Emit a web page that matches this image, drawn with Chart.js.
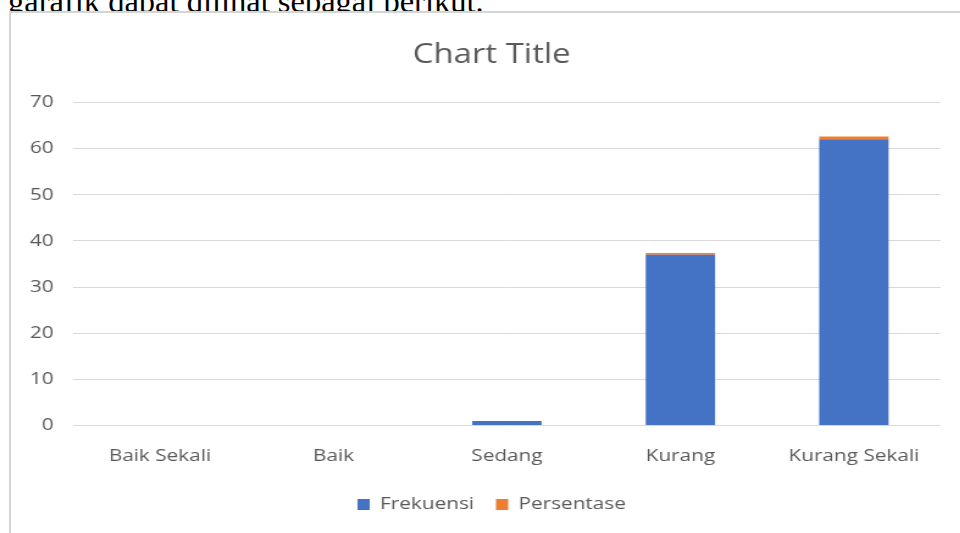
<!DOCTYPE html>
<html>
<head>
<meta charset="utf-8">
<script src="https://cdn.jsdelivr.net/npm/chart.js@4"></script>
<style>
  body { margin: 0; background: #fff; width: 960px; height: 533px; overflow: hidden; position: relative; }
  #caption { position: absolute; left: 8px; top: -17px; font-family: "Liberation Serif", serif; font-size: 32.5px; color: #000; white-space: nowrap; }
  #box { position: absolute; left: 9px; top: 11px; width: 951px; height: 522px; border-left: 2px solid #d4d4d4; border-top: 2px solid #d4d4d4; background: #fff; overflow: hidden; }
  /* the reference is stretched sideways and cut on the right, so draw narrower and stretch */
  #wrap { position: absolute; left: 0; top: 0; width: 804px; height: 520px; transform: scaleX(1.22); transform-origin: 0 0; }
</style>
</head>
<body>
<div id="caption">garafik dapat dilihat sebagai berikut.</div>
<div id="box"><div id="wrap"><canvas id="chart"></canvas></div></div>
<script>
const categories = ["Baik Sekali", "Baik", "Sedang", "Kurang", "Kurang Sekali"];
const frekuensi = [0, 0, 1, 37, 62];
const persentase = [0, 0, 0.01, 0.37, 0.62];
const yTicks = [0, 10, 20, 30, 40, 50, 60, 70];

const font = "'Open Sans', 'Noto Sans', sans-serif";
const ctx = document.getElementById("chart").getContext("2d");

new Chart(ctx, {
  type: "bar",
  data: {
    labels: categories,
    datasets: [
      { label: "Frekuensi", data: frekuensi, backgroundColor: "#4472c4", categoryPercentage: 0.8, barPercentage: 0.5 },
      { label: "Persentase", data: persentase, backgroundColor: "#ed7d31", categoryPercentage: 0.8, barPercentage: 0.5 },
    ],
  },
  options: {
    responsive: true,
    maintainAspectRatio: false,
    animation: false,
    layout: { padding: { left: 0, right: 16, top: 8, bottom: 10 } },
    scales: {
      x: {
        stacked: true,
        grid: { display: false },
        border: { display: false },
        ticks: { color: "#595959", font: { family: font, size: 17 }, padding: 12 },
      },
      y: {
        stacked: true,
        min: 0,
        max: yTicks[yTicks.length - 1],
        afterBuildTicks: (scale) => { scale.ticks = yTicks.map((v) => ({ value: v })); },
        afterFit: (scale) => { scale.width = 51; },
        grid: { color: "#d9d9d9", lineWidth: 1, drawTicks: false },
        border: { display: false },
        ticks: { color: "#595959", font: { family: font, size: 17 }, padding: 16 },
      },
      // empty strip on the right so the plot ends where the cut-off reference does
      pad: {
        type: "linear",
        position: "right",
        afterFit: (scale) => { scale.width = 26; },
        grid: { display: false },
        border: { display: false },
        ticks: { display: false },
      },
    },
    plugins: {
      title: {
        display: true,
        text: "Chart Title",
        color: "#595959",
        font: { family: font, size: 27, weight: "normal" },
        padding: { top: 18, bottom: 31 },
      },
      legend: {
        position: "bottom",
        labels: { color: "#595959", font: { family: font, size: 17 }, boxWidth: 10, boxHeight: 11, padding: 18 },
      },
      tooltip: { enabled: false },
    },
  },
});
</script>
</body>
</html>
